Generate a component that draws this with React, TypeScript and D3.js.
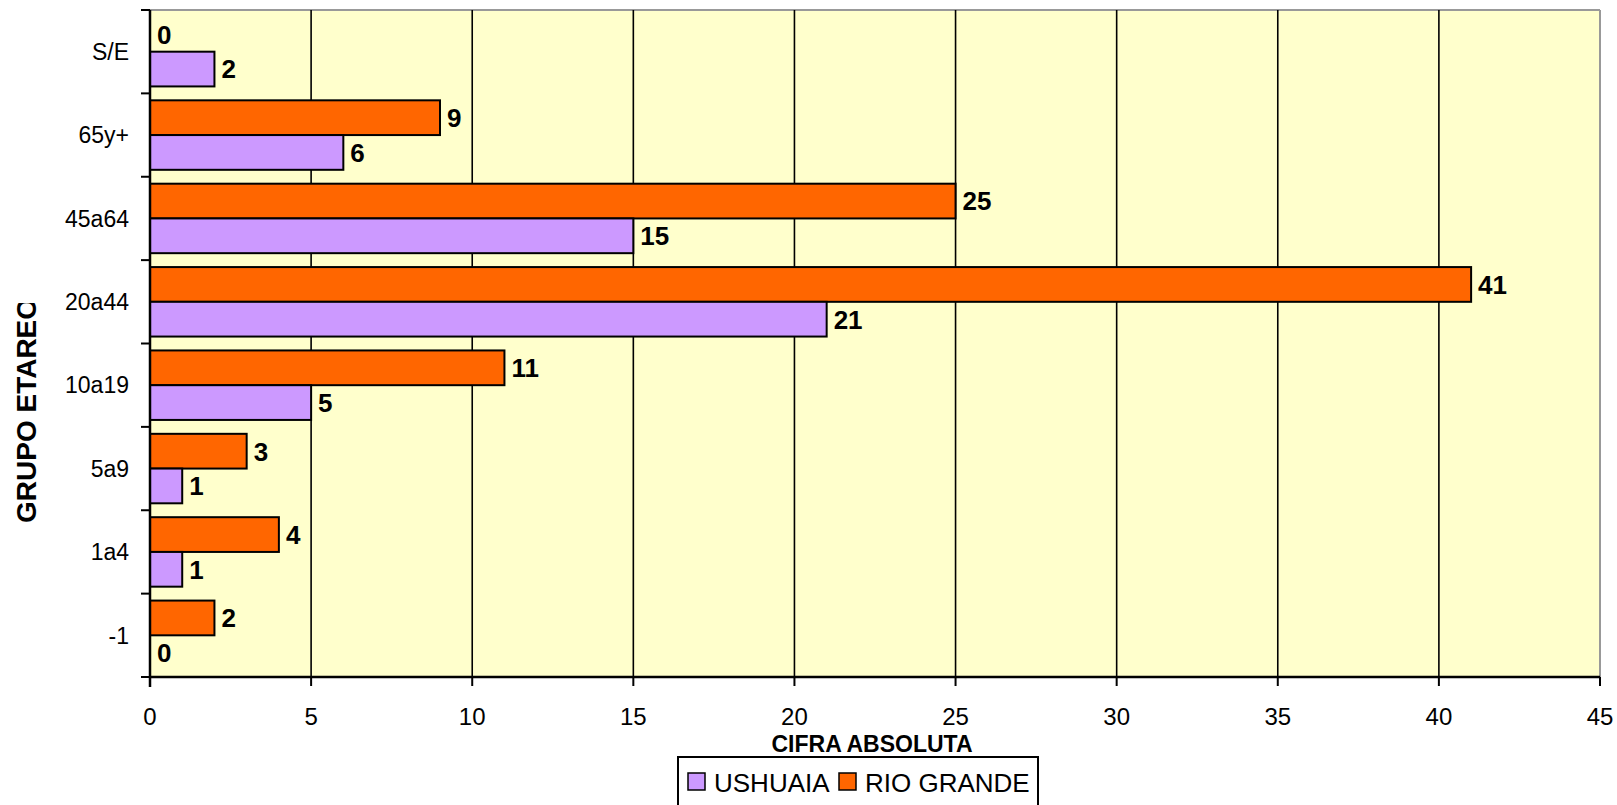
import React from "react";
import * as d3 from "d3";

const categories = ["S/E", "65y+", "45a64", "20a44", "10a19", "5a9", "1a4", "-1"];
const ushuaia = [2, 6, 15, 21, 5, 1, 1, 0];
const rioGrande = [0, 9, 25, 41, 11, 3, 4, 2];
const xTicks = [0, 5, 10, 15, 20, 25, 30, 35, 40, 45];

const series = [
  { key: "RIO GRANDE", values: rioGrande, color: "#FF6600" },
  { key: "USHUAIA", values: ushuaia, color: "#CC99FF" },
];

const W = 1617;
const H = 805;
const left = 150;
const right = 1600;
const top = 10;
const bottom = 677;

const App: React.FC = () => {
  const x = d3.scaleLinear().domain([0, 45]).range([left, right]);
  const y = d3.scaleBand<string>().domain(categories).range([top, bottom]);
  const inner = d3
    .scaleBand<string>()
    .domain(series.map((s) => s.key))
    .range([0, y.bandwidth()])
    .paddingOuter(0.2);

  const boundaries = d3.range(categories.length + 1).map((i) => top + i * y.step());
  const font = "Arial, 'Liberation Sans', sans-serif";

  return (
    <svg
      width={W}
      height={H}
      style={{ position: "absolute", left: 0, top: 0, background: "#fff" }}
      fontFamily={font}
    >
      <defs>
        <clipPath id="ytitle-clip">
          <rect x={0} y={303} width={60} height={400} />
        </clipPath>
      </defs>

      {/* plot background */}
      <rect x={left} y={top} width={right - left} height={bottom - top} fill="#FFFFCC" />
      <line x1={left} x2={right} y1={top} y2={top} stroke="#999" strokeWidth={2} />
      <line x1={right} x2={right} y1={top} y2={bottom} stroke="#999" strokeWidth={2} />

      {/* vertical grid */}
      {xTicks.slice(1, -1).map((t) => (
        <line key={t} x1={x(t)} x2={x(t)} y1={top} y2={bottom} stroke="#000" strokeWidth={1.6} />
      ))}

      {/* bars */}
      {categories.map((c, i) => (
        <g key={c} transform={`translate(0,${y(c)})`}>
          {series.map((s) => (
            <g key={s.key}>
              {s.values[i] > 0 && (
                <rect
                  x={x(0)}
                  y={inner(s.key)}
                  width={x(s.values[i]) - x(0)}
                  height={inner.bandwidth()}
                  fill={s.color}
                  stroke="#000"
                  strokeWidth={2}
                />
              )}
              <text
                x={x(s.values[i]) + 7}
                y={(inner(s.key) as number) + inner.bandwidth() / 2}
                dy="0.36em"
                fontSize={26}
                fontWeight="bold"
              >
                {s.values[i]}
              </text>
            </g>
          ))}
        </g>
      ))}

      {/* y axis */}
      <line x1={left} x2={left} y1={top} y2={bottom + 10} stroke="#000" strokeWidth={2.5} />
      {boundaries.map((b) => (
        <line key={b} x1={left - 9} x2={left} y1={b} y2={b} stroke="#000" strokeWidth={2} />
      ))}
      {categories.map((c) => (
        <text
          key={c}
          x={129}
          y={(y(c) as number) + y.bandwidth() / 2}
          dy="0.36em"
          textAnchor="end"
          fontSize={23}
        >
          {c}
        </text>
      ))}

      {/* x axis */}
      <line x1={left} x2={right} y1={bottom} y2={bottom} stroke="#000" strokeWidth={2.5} />
      {xTicks.map((t) => (
        <g key={t}>
          <line x1={x(t)} x2={x(t)} y1={bottom} y2={bottom + 9} stroke="#000" strokeWidth={2} />
          <text x={x(t)} y={725} textAnchor="middle" fontSize={24}>
            {t}
          </text>
        </g>
      ))}

      <text x={872} y={752} textAnchor="middle" fontSize={23} fontWeight="bold">
        CIFRA ABSOLUTA
      </text>

      <g clipPath="url(#ytitle-clip)">
        <text
          transform="translate(36,523) rotate(-90)"
          textAnchor="start"
          fontSize={28}
          fontWeight="bold"
        >
          GRUPO ETAREO
        </text>
      </g>

      {/* legend */}
      <rect x={678} y={757} width={360} height={60} fill="#fff" stroke="#000" strokeWidth={2} />
      <rect x={688} y={773} width={17} height={17} fill="#CC99FF" stroke="#000" strokeWidth={1.5} />
      <text x={714} y={792} fontSize={26}>
        USHUAIA
      </text>
      <rect x={839} y={773} width={17} height={17} fill="#FF6600" stroke="#000" strokeWidth={1.5} />
      <text x={865} y={792} fontSize={26}>
        RIO GRANDE
      </text>
    </svg>
  );
};

export default App;
